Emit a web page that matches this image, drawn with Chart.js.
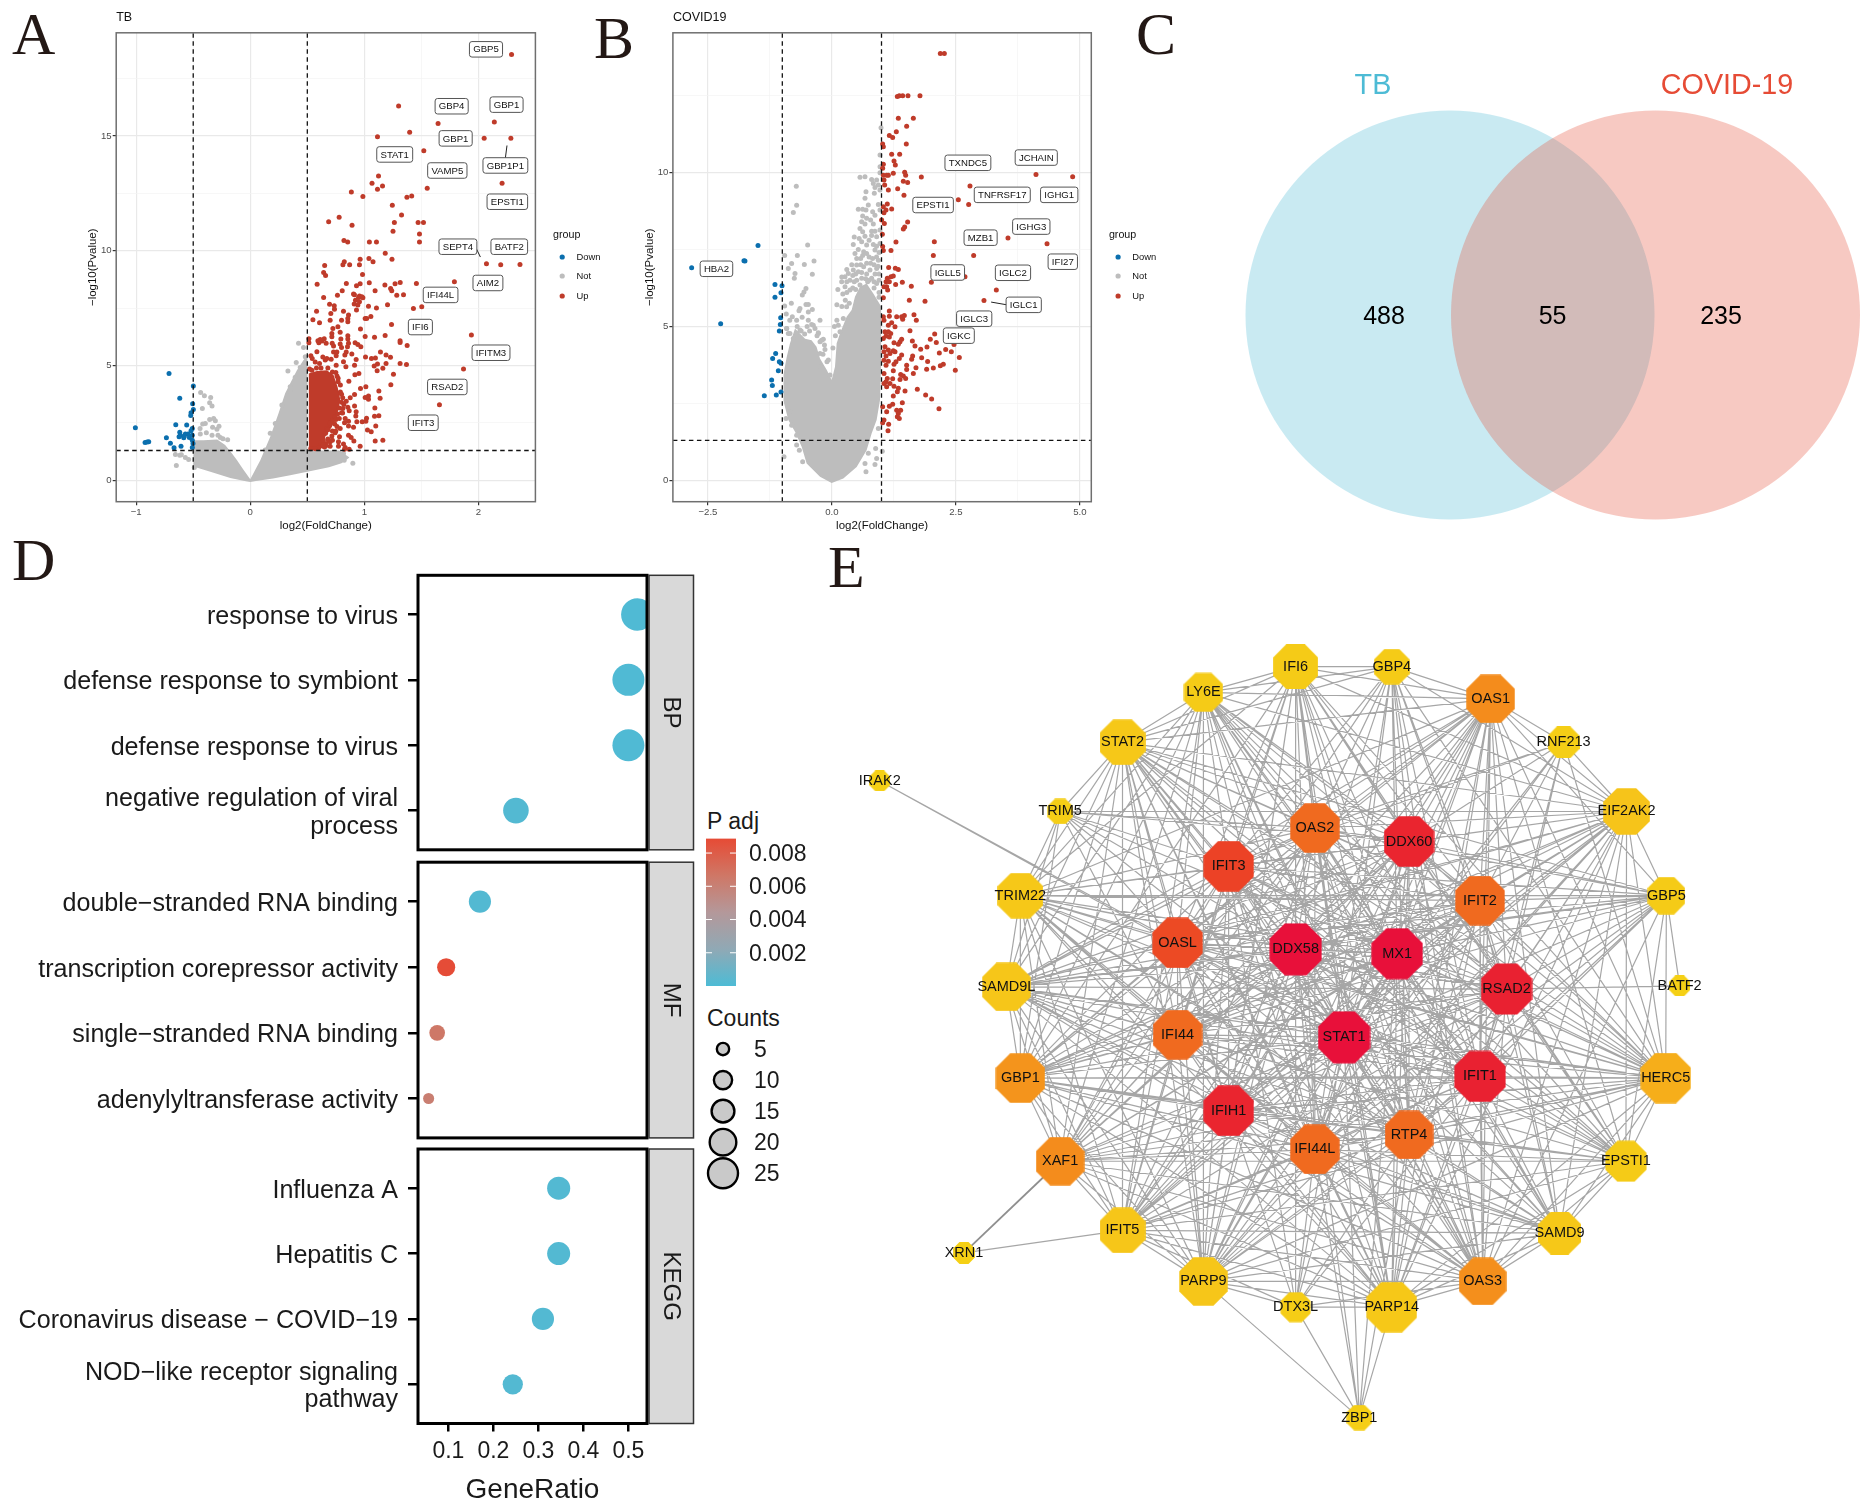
<!DOCTYPE html>
<html lang="en">
<head>
<meta charset="UTF-8" />
<title>TB and COVID-19 shared genes</title>
<style>
  html, body { margin: 0; background: #fff; }
  body { position: relative; width: 1872px; height: 1512px; overflow: hidden; font-family: "Liberation Sans", Arial, sans-serif; }
  canvas { position: absolute; }
  .letra { position: absolute; font: 60px/60px "Liberation Serif", serif; color: #231815; }
  .leyenda { position: absolute; font-size: 23px; line-height: 28px; color: #1a1a1a; }
</style>
</head>
<body>
<div class="letra" style="left:12px;top:4px">A</div>
<div class="letra" style="left:594px;top:8px">B</div>
<div class="letra" style="left:1136px;top:4px">C</div>
<div class="letra" style="left:12px;top:530px">D</div>
<div class="letra" style="left:828px;top:537px">E</div>
<div class="leyenda" style="left:707px;top:807px">P adj</div>
<div class="leyenda" style="left:707px;top:1004px">Counts</div>

<canvas id="volcanoTB" width="560" height="540" style="left:60px;top:0"></canvas>
<canvas id="volcanoCOVID" width="560" height="540" style="left:620px;top:0"></canvas>
<canvas id="venn" width="692" height="480" style="left:1180px;top:60px"></canvas>
<canvas id="dotBP" width="700" height="290" style="left:0;top:570px"></canvas>
<canvas id="dotMF" width="700" height="290" style="left:0;top:855px"></canvas>
<canvas id="dotKEGG" width="700" height="372" style="left:0;top:1140px"></canvas>
<canvas id="colorbar" width="120" height="170" style="left:700px;top:830px"></canvas>
<canvas id="counts" width="120" height="190" style="left:690px;top:1015px"></canvas>
<canvas id="network" width="1040" height="840" style="left:830px;top:620px"></canvas>

<script src="https://cdn.jsdelivr.net/npm/chart.js"></script>
<script>
// ---------- panel A, TB volcano ----------
const tbDown = [[-.712,4.66],[-.499,4.11],[-.618,3.58],[-.505,3.34],[-.499,3.09],[-.519,2.95],[-.522,2.83],[-.653,2.42],[-.557,2.41],[-.508,2.26],[-.519,2.16],[-1.007,2.29],[-.618,2.1],[-.613,1.97],[-.624,1.9],[-.583,1.86],[-.569,2.02],[-.545,2.02],[-.578,1.93],[-.534,1.87],[-.508,1.97],[-.508,1.75],[-.502,1.61],[-.508,1.43],[-.735,1.86],[-.7,1.62],[-.668,1.42],[-.607,1.49],[-.922,1.65],[-.89,1.68],[-.904,1.67]];
const tbNot = [[-.435,3.83],[-.402,3.69],[-.347,3.61],[-.356,3.38],[-.335,3.24],[-.42,3.13],[-.356,2.65],[-.321,2.7],[-.306,2.6],[-.394,2.48],[-.417,2.45],[-.44,2.26],[-.33,2.31],[-.274,2.36],[-.292,2.23],[-.385,2.07],[-.438,2.02],[-.335,1.97],[-.283,1.97],[-.239,1.81],[-.198,1.77],[-.262,1.87],[-.656,1.13],[-.604,1.12],[-.618,1.09],[-.569,1],[-.648,.65],[-.54,.91],[-.49,.56],[.423,5.97],[.467,5.79],[.403,5.14],[.33,4.76],[.482,5.39],[.35,3.86],[.823,.88],[.899,.74],[.73,1.1],[.817,1.17],[.175,2.05],[.277,3.28],[.219,2.48],[.35,4.08],[.394,4.49],[.438,4.92],[.131,1.32]];
const tbNotUpper = [[-.5,1.75],[-.41,1.75],[-.29,1.78],[-.22,1.54],[-.16,1.17],[-.116,.88],[-.058,.45],[0,.05],[.088,.88],[.175,1.9],[.248,2.92],[.306,3.79],[.365,4.37],[.409,4.8],[.467,5.24],[.5,5.46],[.5,1.3],[.78,1.3],[.87,1]];
const tbNotLower = [[-.5,.6],[-.35,.37],[-.175,.1],[-.05,-.03],[0,-.07],[.05,-.03],[.2,.08],[.35,.22],[.5,.37],[.69,.57],[.8,.75],[.87,1]];
const tbUpCoreUpper = [[.511,4.66],[.584,4.76],[.671,4.8],[.73,4.59],[.765,4.08],[.79,3.5]];
const tbUpCoreLower = [[.511,1.4],[.636,1.4],[.657,1.9],[.715,2.33],[.765,2.92],[.79,3.5]];
const tbUp = [[2.29,18.55],[1.3,16.31],[1.646,15.55],[2.139,15.61],[1.397,15.17],[1.115,14.97],[2.05,14.91],[2.284,14.91],[1.521,14.36],[1.124,13.26],[1.067,12.94],[1.159,12.82],[1.115,12.68],[1.551,12.73],[2.207,12.94],[.886,12.56],[.987,12.37],[1.373,12.34],[1.415,12.39],[1.245,11.99],[1.326,11.56],[.779,11.46],[.687,11.27],[1.263,11.24],[1.471,11.24],[1.518,11.24],[.892,11.12],[1.251,10.85],[1.483,10.73],[.821,10.45],[.854,10.38],[1.044,10.38],[1.106,10.38],[1.483,10.38],[1.183,9.9],[1.04,9.67],[.963,9.63],[1.076,9.52],[1.242,9.63],[.824,9.52],[.812,9.39],[.871,9.39],[.652,9.36],[.957,9.39],[2.07,9.44],[2.195,9.39],[2.364,9.41],[.643,9.06],[.66,8.93],[.984,8.97],[.586,8.54],[.842,8.58],[.963,8.57],[.931,8.48],[1.043,8.61],[.806,8.26],[1.094,8.26],[1.18,8.51],[1.23,8.36],[1.24,8.26],[1.269,8.57],[1.314,8.62],[1.456,8.58],[1.789,8.65],[.764,8.06],[.913,8.09],[.957,8.03],[.987,7.96],[.643,7.97],[1.284,8.06],[1.343,8.09],
[.905,8.12],[.949,7.97],[.978,8],[.922,7.85],[.957,7.78],[.911,7.68],[.943,7.64],[1.036,7.59],[1.106,7.51],[1.203,7.65],[1.43,7.49],[1.503,7.56],[.695,7.67],[.736,7.61],[.738,7.45],[.581,7.37],[.706,7.27],[.817,7.37],[.931,7.42],[.861,7.2],[.855,7.05],[.855,6.91],[.8,6.98],[.7,6.98],[.549,7],[.607,6.87],[1.007,7.05],[1.02,7.05],[1.057,7.14],[1.238,6.79],[.768,6.69],[.724,6.62],[.966,6.59],[.788,6.45],[.715,6.4],[.715,6.26],[1.007,6.27],[1.089,6.23],[1.182,6.31],[.855,6.3],[.855,6.16],[.794,6.16],[.648,6.17],[.613,6.14],[.593,6.08],[.514,6.17],[.514,6],[1.313,6.08],[1.313,6.01],[1.375,5.88],[1.938,6.33],[.919,6],[.943,5.92],[.969,5.82],[.861,5.97],[.852,5.82],[.788,5.94],[.8,5.79],[.718,5.97],[.665,5.97],[.73,5.85],[.601,6],[.628,6.07],
[.584,5.6],[.73,5.59],[.759,5.59],[.753,5.43],[.841,5.59],[.829,5.46],[.89,5.5],[1.141,5.59],[1.01,5.38],[1.062,5.31],[1.097,5.33],[1.19,5.46],[1.229,5.36],[.928,5.27],[1.19,5.09],[1.313,5.09],[1.369,5.05],[1.086,4.98],[1.115,5.07],[1.162,4.88],[1.112,4.78],[.531,5.43],[.543,5.31],[.636,5.38],[.671,5.31],[.709,5.28],[.569,5.16],[.607,5.09],[.657,5.24],[.817,5.17],[.753,5.02],[.838,4.95],[.914,5.02],[.952,4.66],[.917,4.6],[.864,4.32],[1.255,4.62],[1.869,4.85],[1.232,4.17],[1.013,4.08],[.966,4],[1.127,3.89],[1.138,3.58],[1.036,3.67],[1.007,3.61],[1.036,3.53],[.914,3.74],[.876,3.6],[.841,3.45],[1.658,3.29],[1.092,3.15],[1.089,2.79],[1.127,2.81],[1.019,2.71],[.981,2.55],[1.013,2.58],[1.1,2.37],[1.027,2.19],[1.06,2.12],[1.095,1.71],[1.162,1.75],[.963,1.49],
[.928,2.99],[.925,2.8],[.934,2.55],[.914,3.24],[.855,3.18],[.867,3.03],[.811,3.13],[.809,2.94],[.765,2.89],[.744,2.77],[.832,2.7],[.861,2.58],[.826,2.51],[.861,2.37],[.905,2.31],[.788,2.26],[.744,2.07],[.671,2.26],[.715,1.93],[.782,1.9],[.861,1.97],[.884,1.87],[.908,1.71],[.7,1.68],[.773,1.68],[.817,1.58],[.867,1.35],[.826,1.35],[.773,1.49],[.7,1.49],[.665,1.61],[.832,1.43],[.77,4.3],[.79,3.85],[.8,3.4],[.78,3.15],[.75,2.65],[.72,2.15],[.69,1.75],[.76,4.55],[.65,1.45],
[.62,1.55],[.64,1.75],[.66,2.05],[.68,2.2],[.7,2.5],[.72,2.6],[.74,2.45],[.66,1.5],[.68,1.8],[.64,1.55],[.72,1.75],[.75,2.15],[.76,2.35],[.78,2.7],[.8,2.95],[.81,3.6],[.82,3.3],[.8,3.75],[.79,4.15],[.77,4.45],[.75,4.7],[.72,4.72],[.68,4.9],[.62,4.9],[.58,4.9],[.54,4.8],[.52,4.85],[.6,1.42],[.57,1.38],[.53,1.38]];
const tbLabels = [['GBP5',2.066,18.78],['GBP4',1.765,16.3],['GBP1',2.246,16.37],['GBP1',1.8,14.9],['STAT1',1.266,14.2],['VAMP5',1.727,13.5],['GBP1P1',2.236,13.72],['EPSTI1',2.253,12.14],['SEPT4',1.82,10.18],['BATF2',2.27,10.18],['AIM2',2.083,8.6],['IFI44L',1.668,8.08],['IFI6',1.491,6.68],['IFITM3',2.11,5.56],['RSAD2',1.727,4.07],['IFIT3',1.516,2.51]];
const tbLinks = [[2.25,14.59,2.236,14.05],[1.983,10.08,2.017,9.73]];

// ---------- panel B, COVID19 volcano ----------
const covDown = [[-1.49,7.63],[-1.753,7.12],[-1.773,7.13],[-2.828,6.9],[-1.148,6.36],[-1.006,6.32],[-1.027,6.09],[-1.148,5.95],[-2.243,5.09],[-1.033,5.28],[-1.04,5.06],[-1.06,4.85],[-1.134,4.12],[-1.195,3.96],[-1.06,3.85],[-1.027,3.8],[-1.08,3.56],[-1.215,3.26],[-1.201,3.08],[-1.363,2.75],[-1.121,2.77],[-1.027,2.87]];
const covNot = [[-.718,9.55],[-.711,8.93],[-.778,8.7],[-.489,7.64],[-.953,7.3],[-.697,7.3],[-.361,7.12],[-.812,7.04],[-.879,6.88],[-.556,7.01],[-.395,6.69],[-.744,6.72],[-.758,6.56],[-.523,6.23],[-.563,6.12],[-.597,6.02],[-.953,5.66],[-.818,5.75],[-.523,5.71],[-.476,5.71],[-.644,5.58],[-.664,5.51],[-.476,5.47],[-.395,5.55],[-.798,5.31],[-.711,5.2],[-.408,5.06],[-.341,4.93],[-.912,4.93],[-.879,4.77],[-.274,4.79],[-.24,4.5],[-.173,4.58],[-.644,4.88],[-.711,4.77],
[.566,9.84],[.667,9.86],[.969,9.99],[.801,9.77],[.902,9.75],[.835,9.64],[.936,9.59],[.868,9.51],[.687,9.37],[.855,9.32],[.667,9.16],[.734,8.94],[.532,8.8],[.62,8.8],[.687,8.78],[.821,8.72],[.936,8.96],[.868,8.61],[.62,8.58],[.7,8.51],[.781,8.45],[.6,8.4],[.667,8.32],[.835,8.32],[.566,8.18],[.62,8.07],[.801,8.09],[.868,8.09],[.667,7.93],[.902,7.91],[.431,7.66],[.7,7.64],[.835,7.66],[.532,7.5],[.64,7.42],[.7,7.37],[.465,7.37],[.868,7.48],[.936,7.15],[.499,6.99],[.431,6.83],[.331,6.72],[.264,6.61],[.197,6.45],[.264,6.29],[.364,6.5],[.532,6.77],[.64,6.94],[.768,6.83],[.902,6.88],[.6,6.56],[.801,6.56],[.566,6.34],[.364,6.18],[.902,6.39],[.129,5.04],[.23,5.26],[.163,4.83],[.297,5.64],[.969,9.43],[.969,8.78],[.969,8.13],[.969,7.69],[.99,11.45],[.97,10.56],[.97,10.18],
[-.966,.77],[-.711,1.15],[-.657,.98],[-.59,.61],[.667,.55],[.868,.52],[.687,.28],[1.016,.95],[.902,.71],[.882,1.04],[.734,.88],[.936,1.69],[-.926,2.01],[-.812,1.79],[-.711,1.47],[-.845,2.23],[-.24,5.2],[-.207,4.55],[-.14,4.25],[-.24,4.12],[-.072,3.91],[-.24,3.69],[-.039,3.42],[-.912,4.93],[-.845,4.77],[-.375,5.04],[-.476,5.2],[-.274,4.77],[-.778,4.61],
[.45,7.9],[.55,7.85],[.6,7.75],[.75,7.8],[.8,7.95],[.9,7.6],[.95,7.4],[.5,7.2],[.58,7.2],[.62,7.3],[.75,7.25],[.82,7.2],[.9,7.25],[.4,7],[.58,7],[.7,7.05],[.78,7.05],[.85,7],[.93,6.95],[.3,6.85],[.42,6.65],[.48,6.7],[.6,6.75],[.7,6.7],[.87,6.7],[.95,6.7],[.2,6.6],[.3,6.45],[.45,6.45],[.5,6.5],[.68,6.55],[.75,6.5],[.85,6.45],[.95,6.5],[.12,6.2],[.22,6.05],[.3,6.1],[.42,6.25],[.48,6.2],[.72,6.45],[.85,6.25],[.95,6.1],[.1,5.7],[.2,5.65],[.27,5.85],[.35,5.75],[.95,5.95],[.05,5],[.07,4.7],[.02,4.3],[.1,5.2],[-.55,4.75],[-.62,4.85],[-.45,4.85],[-.5,5],[-.3,4.7],[-.15,4.4],[-.6,5.3],[-.85,5.2],[-.92,5.4],[-.7,5],[-.18,4.1],[-.1,3.85]];
const covNotUpper = [[-.98,3],[-.98,3.42],[-.912,4],[-.845,4.45],[-.744,4.93],[-.54,4.6],[-.41,4.55],[-.31,4.34],[-.24,3.96],[-.1,3.58],[-.005,3.26],[.062,3.69],[.096,4.45],[.163,4.77],[.297,5.31],[.398,5.53],[.465,5.96],[.566,6.29],[.7,6.39],[.835,6.07],[.996,5.64],[.996,4]];
const covNotLower = [[-.98,3],[-.98,2.6],[-.879,1.96],[-.744,1.58],[-.61,1.09],[-.509,.55],[-.24,.12],[-.005,-.08],[.23,.06],[.499,.44],[.7,.98],[.801,1.52],[.902,1.96],[.969,2.6],[.996,4]];
const covUp = [[2.186,13.86],[2.267,13.86],[1.319,12.46],[1.359,12.49],[1.427,12.49],[1.534,12.49],[1.776,12.49],[1.339,11.76],[1.642,11.76],[1.507,11.5],[1.299,11.32],[1.158,11.2],[1.225,11.13],[1.5,10.92],[1.023,10.92],[1.037,10.83],[1.205,10.59],[1.366,10.59],[1.252,10.37],[1.279,10.24],[1.037,10.26],[1.023,10.13],[1.037,9.91],[1.104,9.91],[1.138,9.91],[1.238,9.97],[1.467,10],[1.487,9.91],[1.803,9.85],[4.115,9.93],[4.854,9.86],[1.05,9.75],[1.44,9.71],[1.527,9.67],[1.064,9.59],[1.326,9.47],[1.138,9.43],[2.784,9.56],[1.453,9.26],[2.549,9.11],[2.757,8.96],[1.117,8.97],[1.037,8.88],[1.091,8.78],[1.205,8.81],[1.05,8.69],[1.003,8.45],[1.057,8.34],[1.527,8.39],[1.467,8.23],[1.44,8.16],[1.017,7.99],[1.292,7.74],[2.065,7.75],[3.55,7.87],[4.337,7.68],[1.023,7.59],[1.037,7.46],[1.191,7.46],[2.045,7.3],[2.858,7.3],[1.144,6.91],[1.279,6.89],[1.339,6.85],[2.683,6.61],[1.238,6.64],[1.191,6.61],[1.117,6.56],[1.091,6.45],[1.158,6.45],[1.05,6.29],[1.104,6.29],[1.124,6.18],[1.285,6.36],[1.42,6.43],[1.601,6.3],[2.005,6.43],[1.037,5.93],[3.315,6.18],[1.561,5.85],[1.877,5.82],[3.066,5.84],
[1.158,5.5],[1.037,5.31],[1.158,5.33],[1.306,5.31],[1.406,5.31],[1.46,5.35],[1.655,5.38],[1.702,5.2],[1.427,5.23],[1.05,5.2],[1.205,5.12],[1.138,5.04],[1.272,4.99],[1.574,4.86],[1.07,4.83],[1.138,4.83],[1.185,4.77],[1.091,4.69],[1.158,4.66],[2.072,4.75],[1.984,4.58],[2.105,4.48],[1.406,4.58],[1.373,4.5],[1.252,4.47],[1.339,4.42],[1.622,4.53],[1.037,4.61],[2.462,4.41],[1.917,4.33],[1.675,4.36],[1.79,4.26],[2.294,4.25],[2.408,4.18],[2.166,4.14],[1.07,4.34],[1.138,4.23],[1.238,4.21],[1.272,4.18],[1.171,4.12],[1.05,4.18],[1.091,4.04],[1.406,4.07],[1.359,3.96],[1.628,4.04],[1.608,3.93],[2.569,3.99],[1.81,3.98],[1.93,3.86],[1.292,3.85],[1.252,3.77],[1.138,3.87],[1.05,3.9],[1.091,3.74],[1.507,3.74],[2.246,3.77],[2.186,3.72],[2.045,3.65],[1.91,3.61],[2.488,3.58],[1.695,3.66],[1.507,3.6],[1.642,3.47],[1.238,3.56],[1.386,3.44],[1.44,3.39],[1.487,3.31],[1.373,3.28],[1.225,3.3],[1.117,3.31],[1.05,3.47],[1.091,3.2],[1.05,3.15],[1.171,3.15],[1.252,3.06],[1.104,3.04],[1.339,2.99],[1.722,2.96],[1.474,2.9],[1.319,2.88],[1.89,2.77],[2.011,2.64],[1.238,2.74],[1.42,2.52],[1.225,2.47],[1.158,2.41],[1.023,2.39],[2.159,2.33],[1.306,2.28],[1.386,2.28],[1.104,2.23],[1.339,2.17],[1.319,2.07],[1.359,2.01],[1.05,1.96],[1.144,1.82],[1.023,1.87],[1.131,1.61]];
const covLabels = [['TXNDC5',2.742,10.31],['JCHAIN',4.12,10.48],['TNFRSF17',3.435,9.27],['IGHG1',4.583,9.27],['EPSTI1',2.04,8.94],['IGHG3',4.02,8.24],['MZB1',2.998,7.88],['IFI27',4.655,7.1],['IGLL5',2.335,6.75],['IGLC2',3.651,6.74],['HBA2',-2.328,6.87],['IGLC1',3.867,5.7],['IGLC3',2.869,5.25],['IGKC',2.559,4.7]];
const covLinks = [[3.21,5.79,3.53,5.7]];
const groupNames = ['Down', 'Not', 'Up'];

// ---------- panel C, venn ----------
const vennSets = ['TB', 'COVID-19'];
const vennCounts = [488, 55, 235];

// ---------- panel D, enrichment ----------
const bpTerms = ['response to virus', 'defense response to symbiont', 'defense response to virus', ['negative regulation of viral', 'process']];
const bpRatio = [.52, .5, .5, .25];
const bpCounts = [26, 25, 25, 16];
const bpPadj = [.0001, .0001, .0001, .0002];
const mfTerms = ['double\u2212stranded RNA binding', 'transcription corepressor activity', 'single\u2212stranded RNA binding', 'adenylyltransferase activity'];
const mfRatio = [.17, .095, .075, .056];
const mfCounts = [12, 8, 6, 3];
const mfPadj = [.0002, .0088, .0066, .0062];
const keggTerms = ['Influenza A', 'Hepatitis C', 'Coronavirus disease \u2212 COVID\u221219', ['NOD\u2212like receptor signaling', 'pathway']];
const keggRatio = [.345, .345, .31, .243];
const keggCounts = [13, 13, 12, 10];
const keggPadj = [.0002, .0002, .0002, .0002];
const ratioTicks = [.1, .2, .3, .4, .5];
const padjTicks = [.002, .004, .006, .008];
const countTicks = [5, 10, 15, 20, 25];

// ---------- panel E, network ----------
const nodeNames = ['IFI6','GBP4','OAS1','RNF213','EIF2AK2','GBP5','BATF2','HERC5','EPSTI1','SAMD9','OAS3','PARP14','ZBP1','DTX3L','PARP9','IFIT5','XRN1','XAF1','GBP1','SAMD9L','TRIM22','IRAK2','TRIM5','STAT2','LY6E','OAS2','DDX60','IFIT3','IFIT2','OASL','DDX58','MX1','RSAD2','IFI44','STAT1','IFIT1','IFIH1','RTP4','IFI44L'];
const nodeX = [702,847,996,1106,1201,1261,1281,1260,1200,1100,984,847,798,702,563,441,202,347,287,266,287,75,347,441,563,731,873,601,980,524,702,855,1020,524,775,980,601,873,731];
const nodeY = [87,87,147,228,357,514,682,854,1009,1143,1233,1281,1487,1281,1233,1138,1180,1009,854,684,514,300,357,228,135,388,413,459,523,602,614,622,688,773,778,851,915,960,987];
const nodeDegree = [28,18,32,14,30,20,2,34,24,26,31,34,7,12,32,29,3,32,33,32,29,2,7,29,22,33,34,34,33,34,36,35,35,33,36,35,34,32,33];
const nodeRank = [.05,.05,.5,.02,.12,.05,0,.3,.05,.08,.48,.08,.02,.03,.1,.1,0,.5,.45,.1,.08,0,.02,.08,.05,.62,.9,.78,.62,.75,1,1,.92,.62,1,.92,.9,.62,.62];
// neighbours of each outer node, by index in nodeNames
const neighbours = [
  [1,2,4,7,8,10,11,14,18,20,23,24,25,26,27,28,29,30,31,32,33,34,35,36,37,38],
  [2,4,7,10,15,17,23,24,25,26,27,28,30,31,32,34,35,37,38],
  [3,4,5,7,8,9,10,11,14,15,17,18,19,20,23,24,25,26,27,28,29,30,31,32,33,34,35,36,37,38],
  [4,7,25,26,27,28,31,32,34,35],
  [5,7,8,9,10,11,14,15,17,18,19,20,22,23,24,25,26,27,28,29,30,31,32,33,34,35,36,37,38],
  [6,7,8,10,14,17,18,19,20,23,25,26,27,28,29,30,31,32,34,35,37,38],
  [32],
  [8,9,10,11,14,15,17,18,19,20,23,24,25,26,27,28,29,30,31,32,33,34,35,36,37,38],
  [9,10,11,14,15,17,18,19,20,23,24,26,27,28,29,30,31,32,33,34,35,36,37,38],
  [10,11,14,15,17,18,19,20,24,25,27,28,30,31,32,34,35,36,37,38],
  [11,13,14,15,17,18,19,20,23,24,25,26,27,28,29,30,31,32,33,34,35,36,37,38],
  [12,13,14,15,17,18,19,20,23,25,26,27,28,29,30,31,32,33,34,35,36,37,38],
  [13,14,30,31,34,37,38],
  [14,15,27,30,31,34,35,36,37,38],
  [15,17,18,19,20,23,24,25,26,27,28,29,30,31,32,33,34,35,36,37,38],
  [16,17,18,19,20,23,24,25,26,27,28,29,30,31,32,33,34,35,36,37,38],
  [],
  [18,19,20,23,24,25,26,27,28,29,30,31,32,33,34,35,36,37,38],
  [19,20,22,23,24,25,26,27,28,29,30,31,32,33,34,35,36,37,38],
  [20,22,23,24,25,26,27,28,29,30,31,32,33,34,35,36,37,38],
  [22,23,24,25,26,27,28,29,30,31,32,33,34,35,36,37,38],
  [29,34],
  [23,25,26,27,29,30,31,33,34],
  [24,25,26,27,28,29,30,31,32,33,34,35,36,37,38],
  [25,26,27,28,29,30,31,32,34,35,37,38]
];
// the inner genes are all linked to one another
const coreNodes = [25,26,27,28,29,30,31,32,33,34,35,36,37,38];
const heavyEdges = [[16,17]];

// ---------- helpers ----------
Chart.defaults.font.family = '"Liberation Sans", Arial, sans-serif';
Chart.defaults.animation = false;
Chart.defaults.responsive = false;
Chart.defaults.devicePixelRatio = 1;
Chart.defaults.plugins.tooltip.enabled = false;
Chart.defaults.plugins.legend.display = false;
Chart.defaults.layout.autoPadding = false;

const pts = list => list.map(p => ({ x: p[0], y: p[1] }));

// move the plot area to the page rectangle it has in the reference
function pin(chart, rect) {
  const c = chart.canvas;
  const ox = parseFloat(c.style.left) || 0, oy = parseFloat(c.style.top) || 0;
  const p = chart.config.options.layout.padding;
  for (let i = 0; i < 3; i++) {
    const a = chart.chartArea;
    p.left += rect.left - ox - a.left;
    p.top += rect.top - oy - a.top;
    p.right += a.right - (rect.right - ox);
    p.bottom += a.bottom - (rect.bottom - oy);
    chart.update('none');
  }
}
const noPadding = () => ({ left: 0, right: 0, top: 0, bottom: 0 });
// long labels at the axis ends must not push the plot area in
const flatEnds = (s, width) => {
  if (width) s.width = width;
  s.paddingTop = s.paddingBottom = s.paddingLeft = s.paddingRight = 0;
};

const framePlugin = (color, width) => ({
  id: 'frame',
  afterDatasetsDraw(chart) {
    const a = chart.chartArea, g = chart.ctx;
    g.save();
    g.strokeStyle = color;
    g.lineWidth = width;
    g.strokeRect(a.left, a.top, a.width, a.height);
    g.restore();
  }
});

const geneLabels = (labels, links) => ({
  id: 'geneLabels',
  afterDatasetsDraw(chart) {
    const g = chart.ctx, sx = chart.scales.x, sy = chart.scales.y;
    g.save();
    g.strokeStyle = '#222';
    g.lineWidth = 1;
    links.forEach(l => {
      g.beginPath();
      g.moveTo(sx.getPixelForValue(l[0]), sy.getPixelForValue(l[1]));
      g.lineTo(sx.getPixelForValue(l[2]), sy.getPixelForValue(l[3]));
      g.stroke();
    });
    g.font = '9.6px "Liberation Sans"';
    g.textAlign = 'center';
    g.textBaseline = 'middle';
    labels.forEach(l => {
      const x = sx.getPixelForValue(l[1]), y = sy.getPixelForValue(l[2]);
      const w = g.measureText(l[0]).width + 7.5, h = 15.5;
      g.beginPath();
      g.roundRect(x - w / 2, y - h / 2, w, h, 2.5);
      g.fillStyle = '#fff';
      g.fill();
      g.strokeStyle = '#555';
      g.stroke();
      g.fillStyle = '#111';
      g.fillText(l[0], x, y + 0.5);
    });
    g.restore();
  }
});

// ggplot style key right of the plot
const groupKey = colors => ({
  id: 'groupKey',
  afterDraw(chart) {
    const g = chart.ctx, right = chart.chartArea.right;
    g.save();
    g.textBaseline = 'middle';
    g.fillStyle = '#111';
    g.font = '10.7px "Liberation Sans"';
    g.fillText('group', right + 17.6, 235.5);
    g.font = '9.4px "Liberation Sans"';
    groupNames.forEach((n, i) => {
      const y = [257, 276, 296][i];
      g.fillStyle = colors[i];
      g.beginPath();
      g.arc(right + 26.8, y, 2.6, 0, Math.PI * 2);
      g.fill();
      g.fillStyle = '#111';
      g.fillText(n, right + 41, y);
    });
    g.restore();
  }
});

const downColor = '#0B6FAE', notColor = '#BDBDBD', upColor = '#BF3B2A';

function volcano(id, cfg) {
  const grid = (majors) => ({
    color: c => majors.includes(c.tick.value) ? '#E9E9E9' : '#F3F3F3',
    lineWidth: c => majors.includes(c.tick.value) ? 1.2 : 0.7,
    tickColor: c => majors.includes(c.tick.value) ? '#333' : 'transparent',
    tickLength: 3.5
  });
  const axis = (major, minor, min, max, text, fmt) => ({
    type: 'linear', min, max,
    afterBuildTicks: s => { s.ticks = major.concat(minor).map(value => ({ value })); },
    grid: grid(major),
    border: { display: false },
    ticks: {
      autoSkip: false, maxRotation: 0, padding: 1, color: '#4D4D4D', font: { size: 9.6 },
      callback: v => major.includes(v) ? fmt(v) : ''
    },
    title: { display: true, text, color: '#111', font: { size: 11.5 }, padding: { top: 0, bottom: 0 } }
  });
  const line = (data, width) => ({
    data: pts(data), showLine: true, pointRadius: 0, borderColor: '#111', borderWidth: width,
    borderDash: [4.5, 3.5], fill: false, order: 0
  });
  const band = (data, color, fill, order) => ({
    data: pts(data), showLine: true, pointRadius: 0, borderWidth: 0, tension: 0,
    backgroundColor: color, borderColor: color, fill, order
  });
  const dots = (label, data, color, order) => ({
    label, data: pts(data), pointRadius: 2.5, pointBorderWidth: 0, backgroundColor: color, borderColor: color, order
  });
  const datasets = [
    dots(groupNames[0], cfg.down, downColor, 1),
    dots(groupNames[1], cfg.not, notColor, 5),
    dots(groupNames[2], cfg.up, upColor, 3),
    band(cfg.notUpper, notColor, '+1', 6),
    band(cfg.notLower, notColor, false, 7)
  ];
  if (cfg.coreUpper) {
    datasets.push(band(cfg.coreUpper, upColor, '+1', 4), band(cfg.coreLower, upColor, false, 4.5));
  }
  cfg.vlines.forEach(v => datasets.push(line([[v, cfg.yMin], [v, cfg.yMax]], 1.3)));
  datasets.push(line([[cfg.xMin, cfg.hline], [cfg.xMax, cfg.hline]], 1.3));

  const chart = new Chart(document.getElementById(id), {
    type: 'scatter',
    data: { datasets },
    options: {
      layout: { padding: noPadding() },
      scales: {
        x: axis(cfg.xMajor, cfg.xMinor, cfg.xMin, cfg.xMax, 'log2(FoldChange)', cfg.xFmt),
        y: axis(cfg.yMajor, cfg.yMinor, cfg.yMin, cfg.yMax, '\u2212log10(Pvalue)', String)
      },
      plugins: {
        title: { display: true, text: cfg.title, align: 'start', fullSize: false, color: '#111', font: { size: 12.5, weight: 'normal' }, padding: { top: 0, bottom: 8 } }
      }
    },
    plugins: [framePlugin('#6f6f6f', 1.5), geneLabels(cfg.labels, cfg.links), groupKey([downColor, notColor, upColor])]
  });
  pin(chart, cfg.rect);
}

const minus = s => String(s).replace('-', '\u2212');

volcano('volcanoTB', {
  title: 'TB', down: tbDown, not: tbNot, up: tbUp, notUpper: tbNotUpper, notLower: tbNotLower,
  coreUpper: tbUpCoreUpper, coreLower: tbUpCoreLower, labels: tbLabels, links: tbLinks,
  xMin: -1.175, xMax: 2.499, yMin: -.93, yMax: 19.5, vlines: [-.5, .5], hline: 1.3,
  xMajor: [-1, 0, 1, 2], xMinor: [-.5, .5, 1.5], yMajor: [0, 5, 10, 15], yMinor: [2.5, 7.5, 12.5, 17.5],
  xFmt: v => minus(v), rect: { left: 116.2, right: 535.4, top: 32.8, bottom: 501.7 }
});
volcano('volcanoCOVID', {
  title: 'COVID19', down: covDown, not: covNot, up: covUp, notUpper: covNotUpper, notLower: covNotLower,
  labels: covLabels, links: covLinks,
  xMin: -3.206, xMax: 5.23, yMin: -.69, yMax: 14.53, vlines: [-1, 1], hline: 1.3,
  xMajor: [-2.5, 0, 2.5, 5], xMinor: [-1.25, 1.25, 3.75], yMajor: [0, 5, 10], yMinor: [2.5, 7.5, 12.5],
  xFmt: v => minus(v.toFixed(1)),
  rect: { left: 672.9, right: 1091.3, top: 32.8, bottom: 501.7 }
});

// venn
new Chart(document.getElementById('venn'), {
  type: 'scatter',
  data: { datasets: [
    { data: [{ x: 1, y: 0 }], pointRadius: 204.5, pointBorderWidth: 0, backgroundColor: 'rgba(230,75,53,.3)', clip: false, order: 1 },
    { data: [{ x: 0, y: 0 }], pointRadius: 204.5, pointBorderWidth: 0, backgroundColor: 'rgba(77,187,213,.3)', clip: false, order: 2 }
  ] },
  options: {
    scales: {
      x: { display: false, min: -1.3139, max: 2.0535 },
      y: { display: false, min: -1.095, max: 1.241 }
    }
  },
  plugins: [{
    id: 'vennText',
    afterDatasetsDraw(chart) {
      const g = chart.ctx, sx = chart.scales.x, sy = chart.scales.y;
      g.save();
      g.textAlign = 'center';
      g.textBaseline = 'middle';
      g.font = '28.7px "Liberation Sans"';
      g.fillStyle = '#4DBBD5';
      g.fillText(vennSets[0], sx.getPixelForValue(-.375), sy.getPixelForValue(1.113));
      g.fillStyle = '#E64B35';
      g.fillText(vennSets[1], sx.getPixelForValue(1.348), sy.getPixelForValue(1.113));
      g.font = '25px "Liberation Sans"';
      g.fillStyle = '#000';
      [-.321, .499, 1.319].forEach((x, i) => g.fillText(vennCounts[i], sx.getPixelForValue(x), sy.getPixelForValue(-.012)));
      g.restore();
    }
  }]
});

// dot plot colours and sizes
const padjStops = ['#4DBBD5', '#90A9B5', '#B4989A', '#CF7766', '#E64B35'];
const padjMax = .00887;
const hex = h => [1, 3, 5].map(i => parseInt(h.substr(i, 2), 16));
function ramp(stops, t) {
  const f = Math.min(Math.max(t, 0), 1) * (stops.length - 1), i = Math.min(Math.floor(f), stops.length - 2);
  const a = hex(stops[i]), b = hex(stops[i + 1]), k = f - i;
  return 'rgb(' + a.map((v, j) => Math.round(v + (b[j] - v) * k)).join(',') + ')';
}
const bubbleR = count => 3.2 * Math.sqrt(count);

function dotFacet(id, cfg) {
  const chart = new Chart(document.getElementById(id), {
    type: 'bubble',
    data: { datasets: [{
      data: cfg.ratio.map((x, i) => ({ x, y: i, r: bubbleR(cfg.counts[i]) })),
      backgroundColor: cfg.padj.map(p => ramp(padjStops, p / padjMax)),
      borderWidth: 0
    }] },
    options: {
      layout: { padding: noPadding() },
      scales: {
        x: {
          type: 'linear', min: .0324, max: .5413, display: cfg.xAxis,
          afterFit: s => flatEnds(s),
          afterBuildTicks: s => { s.ticks = ratioTicks.map(value => ({ value })); },
          grid: { drawOnChartArea: false, color: '#000', lineWidth: 2.5, tickLength: 8 },
          border: { display: false },
          ticks: { autoSkip: false, maxRotation: 0, padding: 6, color: '#1a1a1a', font: { size: 23 }, callback: v => v.toFixed(1) },
          title: { display: true, text: 'GeneRatio', color: '#1a1a1a', font: { size: 28 }, padding: { top: 2, bottom: 0 } }
        },
        y: {
          type: 'linear', reverse: true, min: -.6, max: 3.6,
          afterFit: s => flatEnds(s, 418),
          afterBuildTicks: s => { s.ticks = [0, 1, 2, 3].map(value => ({ value })); },
          grid: { drawOnChartArea: false, color: '#000', lineWidth: 2.5, tickLength: 10 },
          border: { display: false },
          ticks: {
            autoSkip: false, maxRotation: 0, padding: 10, labelOffset: 2.5, color: '#1a1a1a',
            font: { size: 25.1, lineHeight: 1.08 },
            callback: v => cfg.terms[v]
          }
        }
      }
    },
    plugins: [framePlugin('#000', 3), {
      id: 'strip',
      afterDatasetsDraw(chart) {
        const a = chart.chartArea, g = chart.ctx;
        g.save();
        g.fillStyle = '#D9D9D9';
        g.strokeStyle = '#333';
        g.lineWidth = 1.5;
        g.fillRect(a.right + 2, a.top, 44.5, a.height);
        g.strokeRect(a.right + 2, a.top, 44.5, a.height);
        g.translate(a.right + 24, (a.top + a.bottom) / 2);
        g.rotate(Math.PI / 2);
        g.fillStyle = '#1a1a1a';
        g.font = '24px "Liberation Sans"';
        g.textAlign = 'center';
        g.textBaseline = 'middle';
        g.fillText(cfg.strip, 0, 0);
        g.restore();
      }
    }]
  });
  pin(chart, cfg.rect);
}
dotFacet('dotBP', { terms: bpTerms, ratio: bpRatio, counts: bpCounts, padj: bpPadj, strip: 'BP', xAxis: false, rect: { left: 418, right: 647, top: 575.3, bottom: 849.8 } });
dotFacet('dotMF', { terms: mfTerms, ratio: mfRatio, counts: mfCounts, padj: mfPadj, strip: 'MF', xAxis: false, rect: { left: 418, right: 647, top: 862.2, bottom: 1137.9 } });
dotFacet('dotKEGG', { terms: keggTerms, ratio: keggRatio, counts: keggCounts, padj: keggPadj, strip: 'KEGG', xAxis: true, rect: { left: 418, right: 647, top: 1149, bottom: 1423.5 } });

// colour bar for P adj
const colorbar = new Chart(document.getElementById('colorbar'), {
  type: 'bar',
  data: { labels: [''], datasets: [{
    data: [[0, padjMax]],
    barPercentage: 1, categoryPercentage: 1,
    backgroundColor: c => {
      const s = c.chart.scales.y;
      const y0 = s ? s.getPixelForValue(0) : NaN, y1 = s ? s.getPixelForValue(padjMax) : NaN;
      if (!Number.isFinite(y0) || !Number.isFinite(y1)) return padjStops[0];
      const g = c.chart.ctx.createLinearGradient(0, y0, 0, y1);
      padjStops.forEach((col, i) => g.addColorStop(i / (padjStops.length - 1), col));
      return g;
    }
  }] },
  options: {
    layout: { padding: noPadding() },
    scales: {
      x: { display: false },
      y: {
        position: 'right', min: 0, max: padjMax,
        afterFit: s => flatEnds(s, 84),
        afterBuildTicks: s => { s.ticks = padjTicks.map(value => ({ value })); },
        grid: { display: false }, border: { display: false },
        ticks: { autoSkip: false, padding: 5, labelOffset: 1.5, color: '#1a1a1a', font: { size: 23 }, callback: v => v.toFixed(3) }
      }
    }
  },
  plugins: [{
    id: 'whiteTicks',
    afterDatasetsDraw(chart) {
      const a = chart.chartArea, g = chart.ctx, s = chart.scales.y;
      g.save();
      g.strokeStyle = '#fff';
      g.lineWidth = 1;
      padjTicks.forEach(v => {
        const y = s.getPixelForValue(v);
        g.beginPath();
        g.moveTo(a.left, y); g.lineTo(a.left + 6, y);
        g.moveTo(a.right - 6, y); g.lineTo(a.right, y);
        g.stroke();
      });
      g.restore();
    }
  }]
});
pin(colorbar, { left: 706, right: 736, top: 838.6, bottom: 986 });

// size legend
const counts = new Chart(document.getElementById('counts'), {
  type: 'bubble',
  data: { datasets: [{
    data: countTicks.map(c => ({ x: 0, y: c, r: bubbleR(c) - 1 })),
    backgroundColor: '#C9C9C9', borderColor: '#000', borderWidth: 2.4, clip: false
  }] },
  options: {
    layout: { padding: noPadding() },
    scales: {
      x: { display: false, min: -1, max: 1 },
      y: {
        position: 'right', reverse: true, min: .32, max: 28.5,
        afterFit: s => flatEnds(s, 64),
        afterBuildTicks: s => { s.ticks = countTicks.map(value => ({ value })); },
        grid: { display: false }, border: { display: false },
        ticks: { autoSkip: false, padding: 0, labelOffset: 1.5, color: '#1a1a1a', font: { size: 23 } }
      }
    }
  }
});
pin(counts, { left: 700, right: 746, top: 1020, bottom: 1195 });

// network
const rankStops = ['#F5D015', '#F6C41A', '#F6B81A', '#F5A01B', '#F48C1C', '#F0691F', '#EC4A24', '#EA2A2C', '#E8103A'];
const nodeR = deg => 9.5 + .46 * deg;
function octagon(r, color) {
  const c = document.createElement('canvas');
  c.width = c.height = Math.ceil(2 * r);
  const g = c.getContext('2d'), m = c.width / 2, k = r * .4142;
  const v = [[-k,-r],[k,-r],[r,-k],[r,k],[k,r],[-k,r],[-r,k],[-r,-k]];
  g.fillStyle = color;
  g.beginPath();
  v.forEach(p => g.lineTo(m + p[0], m + p[1]));
  g.closePath();
  g.fill();
  return c;
}
const edgeLine = (a, b) => [{ x: nodeX[a], y: nodeY[a] }, { x: nodeX[b], y: nodeY[b] }, { x: NaN, y: NaN }];
const edgePoints = [];
neighbours.forEach((list, a) => list.forEach(b => edgePoints.push(...edgeLine(a, b))));
coreNodes.forEach((a, i) => coreNodes.slice(i + 1).forEach(b => edgePoints.push(...edgeLine(a, b))));

new Chart(document.getElementById('network'), {
  type: 'scatter',
  data: { datasets: [
    {
      data: nodeNames.map((n, i) => ({ x: nodeX[i], y: nodeY[i] })),
      pointStyle: nodeDegree.map((d, i) => octagon(nodeR(d), ramp(rankStops, nodeRank[i]))),
      pointRadius: nodeDegree.map(nodeR),
      order: 0
    },
    { data: edgePoints, showLine: true, spanGaps: false, pointRadius: 0, borderColor: 'rgba(150,150,150,.85)', borderWidth: 1.2, order: 1 },
    { data: heavyEdges.flatMap(e => edgeLine(e[0], e[1])), showLine: true, spanGaps: false, pointRadius: 0, borderColor: '#8f8f8f', borderWidth: 1.8, order: 1 }
  ] },
  options: {
    scales: {
      x: { display: false, min: 0, max: 1568 },
      y: { display: false, min: 0, max: 1566, reverse: true }
    }
  },
  plugins: [{
    id: 'nodeText',
    afterDatasetsDraw(chart) {
      const g = chart.ctx, sx = chart.scales.x, sy = chart.scales.y;
      g.save();
      g.font = '14.5px "Liberation Sans"';
      g.textAlign = 'center';
      g.textBaseline = 'middle';
      g.fillStyle = '#111';
      nodeNames.forEach((n, i) => g.fillText(n, sx.getPixelForValue(nodeX[i]), sy.getPixelForValue(nodeY[i])));
      g.restore();
    }
  }]
});
</script>
</body>
</html>
